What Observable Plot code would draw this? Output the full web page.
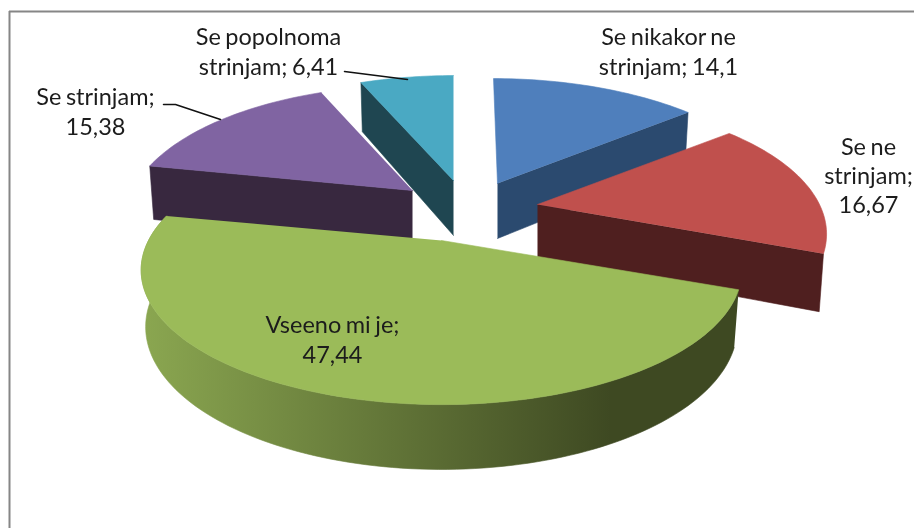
<!DOCTYPE html>
<html>
<head>
<meta charset="utf-8">
<script src="https://cdn.jsdelivr.net/npm/d3@7"></script>
<script src="https://cdn.jsdelivr.net/npm/@observablehq/plot@0.6"></script>
<style>
html,body{margin:0;padding:0;background:#fff;overflow:hidden}
svg{display:block;filter:blur(0.4px)}
svg text{word-spacing:-1.5px}
</style>
</head>
<body>
<div id="chart"></div>
<script>
// Data
const categories = ["Se nikakor ne\nstrinjam", "Se ne\nstrinjam", "Vseeno mi je", "Se strinjam", "Se popolnoma\nstrinjam"];
const values = [14.1, 16.67, 47.44, 15.38, 6.41];
const separators = ["; ", ";\n", ";\n", ";\n", "; "];
const topColors = ["#4f7fbc", "#c0504d", "#9bbb59", "#8064a2", "#4aa9c3"];
const wallColors = ["#2b4a6f", "#4f1f1f", "url(#greenWall)", "#38283f", "#1f4651"];

// 3D layout of the exploded pie
const apexX = [497, 537, 441, 412, 453];
const apexY = [183, 204, 240, 190, 180];
const radiusX = [284, 282, 293, 280, 284];
const lean = [-4, 0, 0, 0, 0];
const labelX = [668, 868, 332, 95, 268];
const labelY = [50, 174, 338, 110, 50];
const leaders = [
  {id: "a", x: [344, 407], y: [71, 79]},
  {id: "b", x: [163, 175, 220], y: [104, 104, 119]}
];
const radiusY = 128, tilt = 0.22, depth = 55, lowerX = 0.985, lowerY = 1.06;

const total = d3.sum(values);
const starts = [0, ...d3.cumsum(values)].map(v => v / total * 2 * Math.PI);

function project(i, angle, lower) {
  const X = Math.sin(angle), Z = Math.cos(angle), s = 1 / (1 + tilt * Z);
  const x0 = apexX[i] + lean[i] * Z;
  return lower
    ? {x: x0 + radiusX[i] * lowerX * X * s, y: apexY[i] + depth - radiusY * lowerY * Z * s}
    : {x: x0 + radiusX[i] * X * s, y: apexY[i] - radiusY * Z * s};
}
function arc(i, a0, a1, lower) {
  const n = Math.max(2, Math.ceil(Math.abs(a1 - a0) * 40));
  return d3.range(n + 1).map(k => project(i, a0 + (a1 - a0) * k / n, lower));
}
function apex(i, lower) {
  return {x: apexX[i], y: apexY[i] + (lower ? depth : 0)};
}
const topFace = i => [apex(i, false), ...arc(i, starts[i], starts[i + 1], false)];
// the face of each slice that looks towards the viewer
function wall(i) {
  if (i === 2) return [...arc(i, starts[2], starts[3], false), ...arc(i, starts[3], starts[2], true)];
  const a = i === 3 ? starts[3] : i === 4 ? starts[4] : starts[i + 1];
  return [apex(i, false), project(i, a, false), project(i, a, true), apex(i, true)];
}
const shape = (pts, fill) => Plot.line(pts, {x: "x", y: "y", fill, stroke: fill, strokeWidth: 0.6, curve: "linear"});
const order = [0, 4, 3, 1, 2];
const pieMarks = order.flatMap(i => [shape(wall(i), wallColors[i]), shape(topFace(i), topColors[i])]);

const labels = categories.map((c, i) => ({
  text: c + separators[i] + String(values[i]).replace(".", ","),
  x: labelX[i], y: labelY[i]
}));
const leaderPts = leaders.flatMap(l => l.x.map((x, k) => ({id: l.id, x, y: l.y[k]})));

const chart = Plot.plot({
  width: 914, height: 528, margin: 0,
  x: {domain: [0, 914], range: [0, 914], axis: null},
  y: {domain: [0, 528], range: [0, 528], axis: null},
  style: {background: "#fff"},
  marks: [
    () => {
      const s = d3.create("svg:defs");
      const g = s.append("linearGradient").attr("id", "greenWall")
        .attr("gradientUnits", "userSpaceOnUse").attr("x1", 145).attr("x2", 610).attr("y1", 0).attr("y2", 0);
      g.append("stop").attr("offset", 0).attr("stop-color", "#8aa650");
      g.append("stop").attr("offset", 1).attr("stop-color", "#3e4922");
      return s.node();
    },
    Plot.ruleY([11], {x1: 9, x2: 914, stroke: "#868686", strokeWidth: 2}),
    Plot.ruleX([9], {y1: 11, y2: 528, stroke: "#868686", strokeWidth: 2}),
    ...pieMarks,
    Plot.line(leaderPts, {x: "x", y: "y", z: "id", stroke: "#111", strokeWidth: 1.5, curve: "linear"}),
    Plot.text(labels, {x: "x", y: "y", text: "text", fontSize: 23.5, lineHeight: 1.25, fill: "#1c1c1c", fontFamily: "Lato", textAnchor: "middle"})
  ]
});
document.getElementById("chart").append(chart);
</script>
</body>
</html>
